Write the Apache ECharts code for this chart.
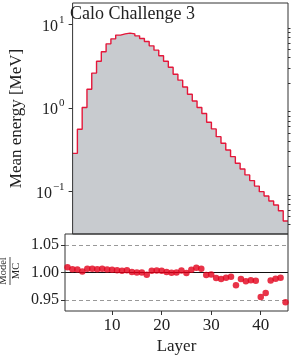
<!DOCTYPE html>
<html>
<head>
<meta charset="utf-8">
<script src="https://cdn.jsdelivr.net/npm/echarts@6/dist/echarts.min.js"></script>
<style>
html,body{margin:0;padding:0;background:#fff;}
#chart{width:291px;height:357px;}
</style>
</head>
<body>
<div id="chart"></div>
<script>
var layers = [1,2,3,4,5,6,7,8,9,10,11,12,13,14,15,16,17,18,19,20,21,22,23,24,25,26,27,28,29,30,31,32,33,34,35,36,37,38,39,40,41,42,43,44,45];
var meanEnergy = [0.286,0.556,1.01,1.67,2.61,3.62,4.69,5.84,6.70,7.43,7.70,7.85,7.70,7.28,6.76,6.22,5.53,4.91,4.20,3.62,3.07,2.53,2.15,1.78,1.46,1.21,1.01,0.859,0.674,0.561,0.453,0.378,0.314,0.261,0.218,0.186,0.158,0.135,0.116,0.0995,0.0883,0.0769,0.0689,0.0589,0.0443];
var ratio = [1.0097,1.006,1.0055,1.002,1.007,1.0067,1.006,1.0067,1.0055,1.005,1.0043,1.003,1.0043,1.0007,1.0,1.0,0.996,1.003,1.0036,1.003,1.0007,0.9995,1.0,1.0036,0.999,1.005,1.0085,1.007,0.9953,0.9964,0.990,0.988,0.9904,0.9922,0.977,0.988,0.984,0.986,0.985,0.9556,0.9628,0.9856,0.9886,0.9904,0.9459];
var xTicks = [10,20,30,40];
var yMajorTicks = [0.1,1,10];
var yMinorTicks = [0.04,0.05,0.06,0.07,0.08,0.09,0.2,0.3,0.4,0.5,0.6,0.7,0.8,0.9,2,3,4,5,6,7,8,9];
var ratioTicks = [0.95,1.00,1.05];
var ratioRef = 1.0;

var FONT = '"Liberation Serif", "DejaVu Serif", serif';
var TXT = '#222';
var RED = '#e4173a';

var stepData = layers.map(function(l,i){ return [l-0.5, meanEnergy[i]]; });
stepData.push([layers[layers.length-1]+0.5, meanEnergy[meanEnergy.length-1]]);
var ratioData = layers.map(function(l,i){ return [l, ratio[i]]; });

var chart = echarts.init(document.getElementById('chart'), null, {renderer:'canvas'});
chart.setOption({
  animation:false,
  backgroundColor:'#fff',
  grid:[
    {left:65, top:3, width:223, height:231, show:true, z:10, backgroundColor:'transparent', borderColor:'#333', borderWidth:1},
    {left:65, top:234, width:223, height:77, show:true, z:10, backgroundColor:'transparent', borderColor:'#333', borderWidth:1}
  ],
  xAxis:[
    {gridIndex:0, type:'value', min:0.5, max:45.5, axisLine:{show:false}, axisTick:{show:false}, axisLabel:{show:false}, splitLine:{show:false}},
    {gridIndex:1, type:'value', min:0.5, max:45.5,
      axisLine:{show:false},
      axisTick:{show:true, customValues:xTicks, length:4, lineStyle:{color:'#333'}},
      axisLabel:{customValues:xTicks, fontSize:17, fontFamily:FONT, color:TXT, margin:6},
      splitLine:{show:false},
      name:'Layer', nameLocation:'middle', nameGap:27,
      nameTextStyle:{fontSize:17, fontFamily:FONT, color:TXT}}
  ],
  yAxis:[
    {gridIndex:0, type:'log', logBase:10, min:0.031, max:18,
      axisLine:{show:false},
      axisTick:{show:true, customValues:yMajorTicks, length:4, lineStyle:{color:'#333'}},
      axisLabel:{customValues:yMajorTicks, margin:8, fontFamily:FONT, color:TXT,
        formatter:function(v){ var e=Math.round(Math.log10(v)); return '{b|10}{s|'+(e<0?'\u2212'+(-e):e)+'}'; },
        rich:{b:{fontSize:16, fontFamily:FONT, color:TXT, lineHeight:20, verticalAlign:'bottom'},
              s:{fontSize:11, fontFamily:FONT, color:TXT, lineHeight:20, verticalAlign:'top', padding:[0,0,0,1]}}},
      splitLine:{show:false},
      name:'Mean energy [MeV]', nameLocation:'middle', nameGap:45,
      nameTextStyle:{fontSize:17, fontFamily:FONT, color:TXT}},
    {gridIndex:0, type:'log', logBase:10, min:0.031, max:18,
      axisLine:{show:false},
      axisTick:{show:true, customValues:yMinorTicks, length:2.5, lineStyle:{color:'#333'}},
      axisLabel:{show:false}, splitLine:{show:false}},
    {gridIndex:1, type:'value', min:0.93, max:1.07,
      axisLine:{show:false},
      axisTick:{show:true, customValues:ratioTicks, length:4, lineStyle:{color:'#333'}},
      axisLabel:{customValues:ratioTicks, fontSize:16, fontFamily:FONT, color:TXT, margin:6,
        formatter:function(v){ return v.toFixed(2); }},
      splitLine:{show:true, lineStyle:{color:'#999', type:[4,3], width:1}}}
  ],
  graphic:[
    {type:'text', left:70, top:5, z:20, style:{text:'Calo Challenge 3', fontSize:18, fontFamily:FONT, fill:TXT}},
    {type:'group', x:10, y:271, rotation:Math.PI/2, z:20, children:[
      {type:'text', x:0, y:-1, style:{text:'Model', fontSize:10.5, fontFamily:FONT, fill:TXT, align:'center', verticalAlign:'bottom'}},
      {type:'line', shape:{x1:-14, y1:0, x2:14, y2:0}, style:{stroke:TXT, lineWidth:0.8}},
      {type:'text', x:0, y:1, style:{text:'MC', fontSize:10.5, fontFamily:FONT, fill:TXT, align:'center', verticalAlign:'top'}}
    ]}
  ],
  series:[
    {type:'line', xAxisIndex:0, yAxisIndex:0, data:stepData, step:'end', symbol:'none',
      lineStyle:{width:0, opacity:0}, areaStyle:{color:'#c8cbcf', opacity:1}, z:2},
    {type:'line', xAxisIndex:0, yAxisIndex:0, data:stepData, step:'end', symbol:'none',
      lineStyle:{color:RED, width:1.4}, z:3},
    {type:'line', xAxisIndex:1, yAxisIndex:2, data:[], z:2,
      markLine:{silent:true, symbol:'none', label:{show:false}, z:2,
        lineStyle:{color:'#111', type:'solid', width:1.2}, data:[{yAxis:ratioRef}]}},
    {type:'scatter', xAxisIndex:1, yAxisIndex:2, data:ratioData, symbolSize:6.5,
      itemStyle:{color:'#e2001a'}, z:10}
  ]
});
</script>
</body>
</html>
